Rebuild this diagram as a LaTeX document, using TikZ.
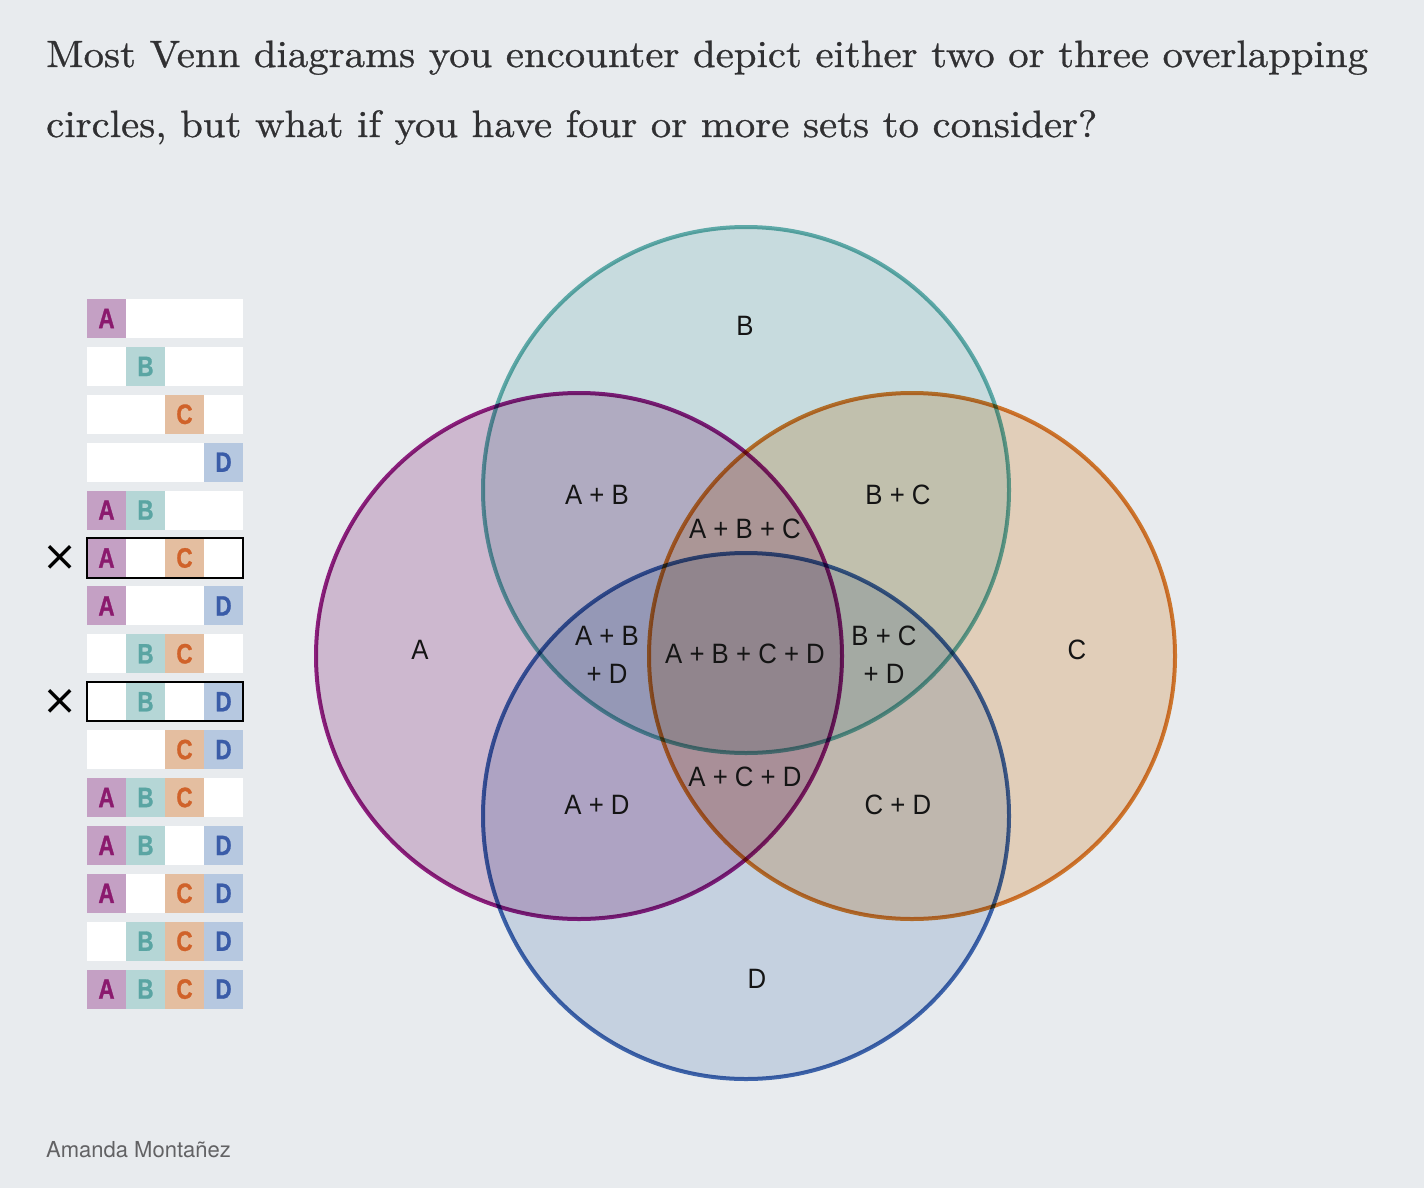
\documentclass[tikz,border=0pt]{standalone}
\usepackage{fontspec}
\usepackage{tikz}
\usetikzlibrary{positioning}

\newfontfamily\titlefont{lmroman10-regular}[Extension=.otf, FakeStretch=1.074, FakeBold=0.8]
\newfontfamily\labelfont[FakeStretch=0.92]{Liberation Sans}
\newfontfamily\legendfont{Liberation Sans Bold}[FakeStretch=0.8, FakeBold=1]
\newfontfamily\authorfont{TeX Gyre Heros}
\newfontfamily\crossfont{DejaVu Sans}

\definecolor{bg}{RGB}{232,235,238}
\definecolor{titlegray}{RGB}{48,48,50}
\definecolor{authorgray}{RGB}{98,98,100}
% fills, multiplied onto the background
\definecolor{Avenn}{RGB}{226,200,222}
\definecolor{Bvenn}{RGB}{219,238,238}
\definecolor{Cvenn}{RGB}{248,224,199}
\definecolor{Dvenn}{RGB}{217,227,241}
% outlines
\definecolor{Aline}{RGB}{156,34,136}
\definecolor{Bline}{RGB}{104,184,180}
\definecolor{Cline}{RGB}{226,130,50}
\definecolor{Dline}{RGB}{68,108,182}
% legend cells
\definecolor{Afill}{RGB}{196,160,196}
\definecolor{Bfill}{RGB}{181,214,214}
\definecolor{Cfill}{RGB}{228,190,160}
\definecolor{Dfill}{RGB}{182,200,224}
\definecolor{Atext}{RGB}{139,26,110}
\definecolor{Btext}{RGB}{90,165,163}
\definecolor{Ctext}{RGB}{208,98,42}
\definecolor{Dtext}{RGB}{58,92,168}

\begin{document}
\begin{tikzpicture}[x=1pt, y=-1pt,
    region/.style={font=\labelfont\fontsize{28}{38}\selectfont, align=center, text=black!92},
    cell/.style={minimum width=39pt, minimum height=39pt, inner sep=0pt,
        font=\legendfont\fontsize{28}{28}\selectfont},
    setrow/.style={fill=white, minimum width=156pt, minimum height=39pt, inner sep=0pt},
    ring/.style={line width=4pt, blend mode=multiply}]
    \fill[bg] (0, 0) rectangle (1424, 1188);

    % title
    \node[anchor=base west, inner sep=0pt, text=titlegray, font=\titlefont\fontsize{38}{38}\selectfont] (title1) at (46, 67)
        {Most Venn diagrams you encounter depict either two or three overlapping};
    \node[anchor=base west, inner sep=0pt, text=titlegray, font=\titlefont\fontsize{38}{38}\selectfont] (title2) at (46, 137)
        {circles, but what if you have four or more sets to consider?};

    % the four sets
    \fill[Avenn, blend mode=multiply] (579, 656) circle[radius=263pt];
    \fill[Bvenn, blend mode=multiply] (746, 490) circle[radius=263pt];
    \fill[Cvenn, blend mode=multiply] (912, 656) circle[radius=263pt];
    \fill[Dvenn, blend mode=multiply] (746, 816) circle[radius=263pt];
    \draw[ring, Aline] (579, 656) circle[radius=263pt];
    \draw[ring, Bline] (746, 490) circle[radius=263pt];
    \draw[ring, Cline] (912, 656) circle[radius=263pt];
    \draw[ring, Dline] (746, 816) circle[radius=263pt];

    % region labels
    \node[region] (rB) at (745, 326) {B};
    \node[region] (rAB) at (597, 495) {A + B};
    \node[region] (rBC) at (898, 495) {B + C};
    \node[region] (rABC) at (745, 529) {A + B + C};
    \node[region] (rA) at (420, 650) {A};
    \node[region] (rABD) at (607, 655) {A + B\\+ D};
    \node[region] (rABCD) at (745, 654) {A + B + C + D};
    \node[region] (rBCD) at (884, 655) {B + C\\+ D};
    \node[region] (rC) at (1077, 650) {C};
    \node[region] (rACD) at (745, 777) {A + C + D};
    \node[region] (rAD) at (597, 805) {A + D};
    \node[region] (rCD) at (898, 805) {C + D};
    \node[region] (rD) at (757, 979) {D};

    % legend: one row per combination
    \foreach \i/\inA/\inB/\inC/\inD in {0/1/0/0/0, 1/0/1/0/0, 2/0/0/1/0, 3/0/0/0/1, 4/1/1/0/0,
        5/1/0/1/0, 6/1/0/0/1, 7/0/1/1/0, 8/0/1/0/1, 9/0/0/1/1, 10/1/1/1/0, 11/1/1/0/1,
        12/1/0/1/1, 13/0/1/1/1, 14/1/1/1/1} {
        \node[setrow] (row\i) at (165, 318.5+47.9*\i) {};
        \foreach \k/\on/\L in {0/\inA/A, 1/\inB/B, 2/\inC/C, 3/\inD/D} {
            \ifnum\on=1
                \node[cell, fill=\L fill, text=\L text] (row\i\L) at (106.5+39*\k, 318.5+47.9*\i) {\L};
            \fi
        }
    }

    % combinations that two circles cannot show
    \draw[line width=2pt] (row5.north west) rectangle (row5.south east);
    \draw[line width=2pt] (row8.north west) rectangle (row8.south east);
    \node[font=\crossfont\fontsize{42}{42}\selectfont, inner sep=0pt, left=9pt of row5] (cross5) {×};
    \node[font=\crossfont\fontsize{42}{42}\selectfont, inner sep=0pt, left=9pt of row8] (cross8) {×};

    \node[anchor=base west, inner sep=0pt, text=authorgray, font=\authorfont\fontsize{22}{22}\selectfont] (author) at (46, 1157)
        {Amanda Montañez};
\end{tikzpicture}
\end{document}
